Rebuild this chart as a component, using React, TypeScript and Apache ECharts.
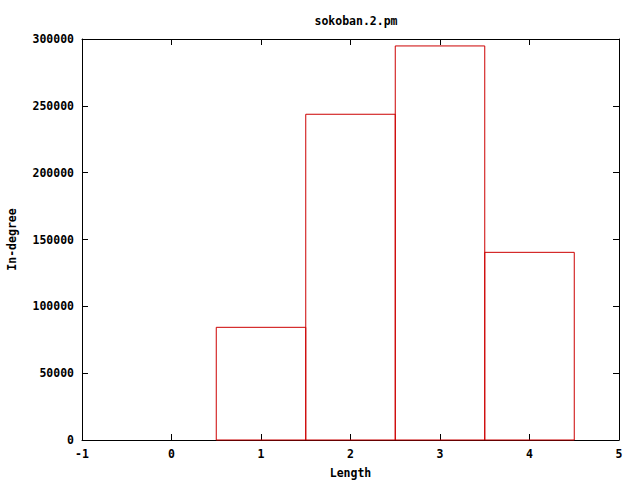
import React, { useEffect, useRef } from "react";
import * as echarts from "echarts";

const lengths = [1, 2, 3, 4];
const inDegree = [84300, 243700, 294800, 140400];
const xTicks = [-1, 0, 1, 2, 3, 4, 5];
const titleText = "sokoban.2.pm";
const xName = "Length";
const yName = "In-degree";

const FONT = "'DejaVu Sans Mono', 'Liberation Mono', monospace";

export default function App() {
  const ref = useRef<HTMLDivElement>(null);
  useEffect(() => {
    const chart = echarts.init(ref.current!, null, { renderer: "svg" });
    const labelStyle = { fontFamily: FONT, fontSize: 11.5, fontWeight: "bold" as const, color: "#000" };
    const data = lengths.map((l, i) => [l, inDegree[i]]);
    chart.setOption({
      animation: false,
      backgroundColor: "#fff",
      title: {
        text: titleText,
        left: 351,
        top: 10,
        textAlign: "center",
        textStyle: { ...labelStyle },
      },
      grid: { left: 82, right: 21, top: 39, bottom: 40, containLabel: false, outerBoundsMode: "none" },
      xAxis: [
        {
          type: "value",
          min: xTicks[0],
          max: xTicks[xTicks.length - 1],
          interval: 1,
          position: "bottom",
          name: xName,
          nameLocation: "middle",
          nameGap: 27,
          nameTextStyle: { ...labelStyle },
          axisLine: { show: true, onZero: false, lineStyle: { color: "#000", width: 1 } },
          axisTick: { show: true, inside: true, length: 6, lineStyle: { color: "#000" } },
          axisLabel: { ...labelStyle, margin: 8 },
          splitLine: { show: false },
        },
        {
          type: "value",
          min: xTicks[0],
          max: xTicks[xTicks.length - 1],
          interval: 1,
          position: "top",
          axisLine: { show: true, onZero: false, lineStyle: { color: "#000", width: 1 } },
          axisTick: { show: true, inside: true, length: 6, lineStyle: { color: "#000" } },
          axisLabel: { show: false },
          splitLine: { show: false },
        },
      ],
      yAxis: [
        {
          type: "value",
          min: 0,
          max: 300000,
          interval: 50000,
          position: "left",
          name: yName,
          nameLocation: "middle",
          nameGap: 64,
          nameRotate: 90,
          nameTextStyle: { ...labelStyle },
          axisLine: { show: true, onZero: false, lineStyle: { color: "#000", width: 1 } },
          axisTick: { show: true, inside: true, length: 6, lineStyle: { color: "#000" } },
          axisLabel: { ...labelStyle, margin: 8, formatter: (v: number) => String(v) },
          splitLine: { show: false },
        },
        {
          type: "value",
          min: 0,
          max: 300000,
          interval: 50000,
          position: "right",
          axisLine: { show: true, onZero: false, lineStyle: { color: "#000", width: 1 } },
          axisTick: { show: true, inside: true, length: 6, lineStyle: { color: "#000" } },
          axisLabel: { show: false },
          splitLine: { show: false },
        },
      ],
      series: [
        {
          type: "custom",
          xAxisIndex: 0,
          yAxisIndex: 0,
          data,
          renderItem: (params: any, api: any) => {
            const x = api.value(0);
            const y = api.value(1);
            const p0 = api.coord([x - 0.5, y]);
            const p1 = api.coord([x + 0.5, 0]);
            return {
              type: "rect",
              shape: { x: p0[0], y: p0[1], width: p1[0] - p0[0], height: p1[1] - p0[1] },
              style: { fill: "none", stroke: "#cc0000", lineWidth: 1 },
            };
          },
        },
      ],
    });
    return () => chart.dispose();
  }, []);
  return <div ref={ref} style={{ width: 640, height: 480, position: "absolute", left: 0, top: 0 }} />;
}
